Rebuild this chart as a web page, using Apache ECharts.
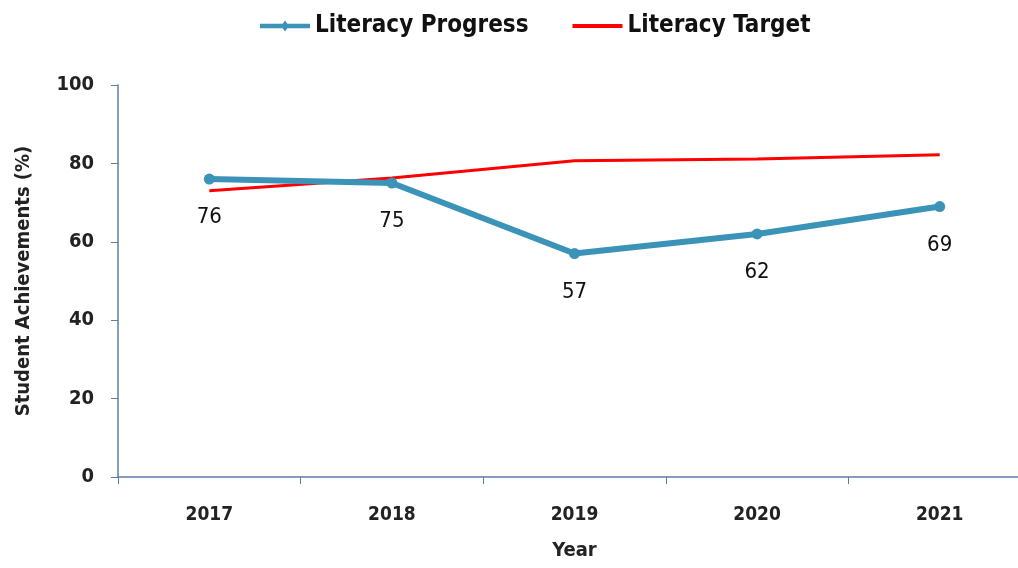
<!DOCTYPE html>
<html><head><meta charset="utf-8">
<script src="https://cdn.jsdelivr.net/npm/echarts@6/dist/echarts.min.js"></script>
<style>html,body{margin:0;padding:0;background:#fff;overflow:hidden}#c{width:1018px;height:568px}</style>
</head><body><div id="c"></div>
<script>
const years = ['2017','2018','2019','2020','2021'];
const progress = [76, 75, 57, 62, 69];
const target = [73.0, 76.3, 80.7, 81.1, 82.2];
const yTicks = [0, 20, 40, 60, 80, 100];

const FONT = "'DejaVu Sans Condensed','Noto Sans',sans-serif";
const axisColor = '#5b7fa6';
const blue = '#3b93b8';
const red = '#ff0000';
const chart = echarts.init(document.getElementById('c'));
chart.setOption({
  animation: false,
  textStyle: {fontFamily: FONT},
  legend: {
    top: 9, left: 255, itemWidth: 50, itemHeight: 11, itemGap: 44,
    textStyle: {fontFamily: FONT, fontSize: 24, fontWeight: 'bold', color: '#111'},
    data: [
      {name: 'Literacy Progress',
       icon: 'path://M0,3.2 L50,3.2 L50,7.8 L0,7.8 Z M25,0 L29,5.5 L25,11 L21,5.5 Z',
       itemStyle: {color: blue}},
      {name: 'Literacy Target',
       icon: 'path://M0,0 L0.01,0 L0.01,0.01 Z M0,3.6 L50,3.6 L50,7.4 L0,7.4 Z M49.99,10.99 L50,10.99 L50,11 Z',
       itemStyle: {color: red}}
    ]
  },
  grid: {left: 118, width: 913, top: 85, bottom: 91, outerBoundsMode: 'none', containLabel: false},
  xAxis: {
    type: 'category', data: years, boundaryGap: true,
    name: 'Year', nameLocation: 'middle', nameGap: 64,
    nameTextStyle: {fontFamily: FONT, fontSize: 20, fontWeight: 'bold', color: '#222', verticalAlign: 'top'},
    axisLine: {lineStyle: {color: axisColor, width: 1.5}},
    axisTick: {show: true, length: 7, inside: false, lineStyle: {color: axisColor}},
    axisLabel: {fontFamily: FONT, fontSize: 19, fontWeight: 'bold', color: '#222', margin: 29}
  },
  yAxis: {
    type: 'value', min: 0, max: 100, interval: 20,
    name: 'Student Achievements (%)', nameLocation: 'middle', nameGap: 84, nameRotate: 90,
    nameTextStyle: {fontFamily: FONT, fontSize: 20, fontWeight: 'bold', color: '#222'},
    axisLine: {show: true, lineStyle: {color: axisColor, width: 1.5}},
    axisTick: {show: true, length: 7, lineStyle: {color: axisColor}},
    splitLine: {show: false},
    axisLabel: {fontFamily: FONT, fontSize: 20, fontWeight: 'bold', color: '#222', margin: 24,
      formatter: v => yTicks.includes(v) ? String(v) : ''}
  },
  series: [
    {
      name: 'Literacy Progress', type: 'line', data: progress,
      symbol: 'circle', symbolSize: 11,
      lineStyle: {color: blue, width: 6},
      itemStyle: {color: blue},
      label: {show: true, position: 'bottom', distance: 22, fontFamily: FONT, fontSize: 22, color: '#111'},
      z: 3
    },
    {
      name: 'Literacy Target', type: 'line', data: target,
      symbol: 'none', showSymbol: false,
      lineStyle: {color: red, width: 3},
      itemStyle: {color: red},
      z: 2
    }
  ]
});
</script></body></html>
